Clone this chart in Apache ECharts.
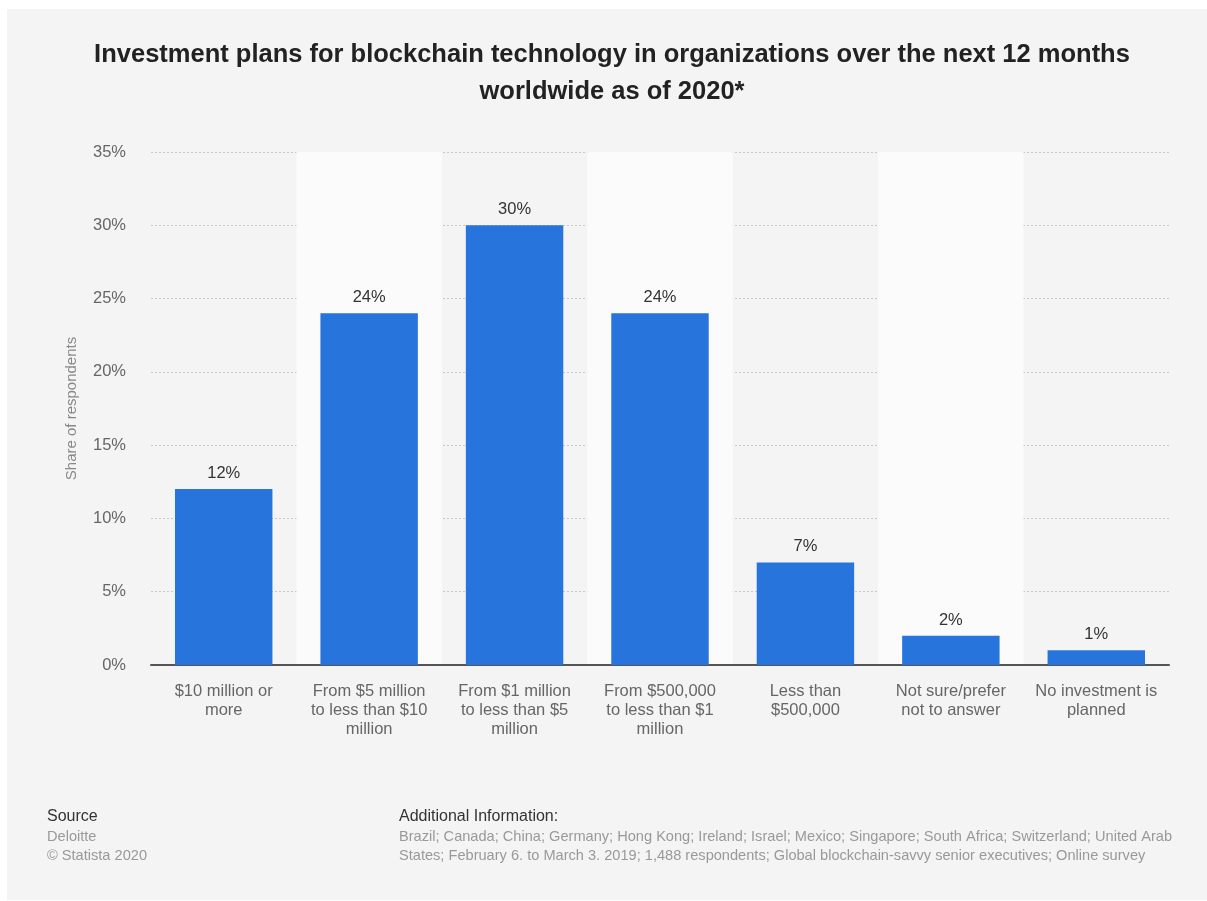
<!DOCTYPE html>
<html>
<head>
<meta charset="utf-8">
<script src="https://cdn.jsdelivr.net/npm/echarts@6/dist/echarts.min.js"></script>
<style>html,body{margin:0;padding:0;background:#fff}#c{width:1207px;height:901px}</style>
</head>
<body>
<div id="c"></div>
<script>
const categories = [
  "$10 million or\nmore",
  "From $5 million\nto less than $10\nmillion",
  "From $1 million\nto less than $5\nmillion",
  "From $500,000\nto less than $1\nmillion",
  "Less than\n$500,000",
  "Not sure/prefer\nnot to answer",
  "No investment is\nplanned"
];
const values = [12, 24, 30, 24, 7, 2, 1];
const yTicks = [0, 5, 10, 15, 20, 25, 30, 35];
const titleText = 'Investment plans for blockchain technology in organizations over the next 12 months\nworldwide as of 2020*';

const chart = echarts.init(document.getElementById('c'), null, {renderer: 'canvas'});
const font = '"Liberation Sans", Arial, Helvetica, sans-serif';
chart.setOption({
  backgroundColor: '#ffffff',
  textStyle: {fontFamily: font},
  graphic: [
    {type: 'rect', z: -10, shape: {x: 7, y: 9, width: 1200, height: 891}, style: {fill: '#f4f4f4'}, silent: true},
    {type: 'text', x: 612, y: 36, style: {text: titleText, fill: '#222', font: 'bold 25.5px ' + font, lineHeight: 37, align: 'center', verticalAlign: 'top'}},
    {type: 'text', left: 47, top: 809, style: {text: 'Source', fill: '#333', font: '16px ' + font}},
    {type: 'text', left: 47, top: 827, style: {text: 'Deloitte\n© Statista 2020', fill: '#999', font: '14.6px ' + font, lineHeight: 19}},
    {type: 'text', left: 399, top: 809, style: {text: 'Additional Information:', fill: '#333', font: '16px ' + font}},
    {type: 'text', left: 399, top: 827, style: {text: 'Brazil; Canada; China; Germany; Hong Kong; Ireland; Israel; Mexico; Singapore; South Africa; Switzerland; United Arab\nStates; February 6. to March 3. 2019; 1,488 respondents; Global blockchain-savvy senior executives; Online survey', fill: '#999', font: '14.6px ' + font, lineHeight: 19}}
  ],
  grid: {left: 151, right: 38, top: 152, bottom: 236},
  xAxis: {
    type: 'category',
    data: categories,
    axisLine: {lineStyle: {color: '#555', width: 2}},
    axisTick: {show: false},
    axisLabel: {color: '#666', fontSize: 16.5, lineHeight: 19, margin: 17, interval: 0, fontFamily: font},
    splitArea: {show: true, interval: 0, areaStyle: {color: ['rgba(0,0,0,0)', '#fbfbfb']}}
  },
  yAxis: {
    type: 'value',
    min: 0, max: 35, interval: 5,
    name: 'Share of respondents',
    nameLocation: 'middle',
    nameGap: 72,
    nameTextStyle: {color: '#888', fontSize: 15, fontFamily: font},
    axisLine: {show: false},
    axisTick: {show: false},
    axisLabel: {color: '#666', fontSize: 16.5, margin: 25, formatter: v => yTicks.includes(v) ? v + '%' : '', fontFamily: font},
    splitLine: {lineStyle: {color: '#c8c8c8', type: [2, 2], width: 1}}
  },
  series: [{
    type: 'bar',
    data: values,
    barWidth: '67%',
    itemStyle: {color: '#2775dc'},
    label: {show: true, position: 'top', distance: 7, formatter: '{c}%', color: '#333', fontSize: 16.5, fontFamily: font},
    z: 3
  }]
});
</script>
</body>
</html>
